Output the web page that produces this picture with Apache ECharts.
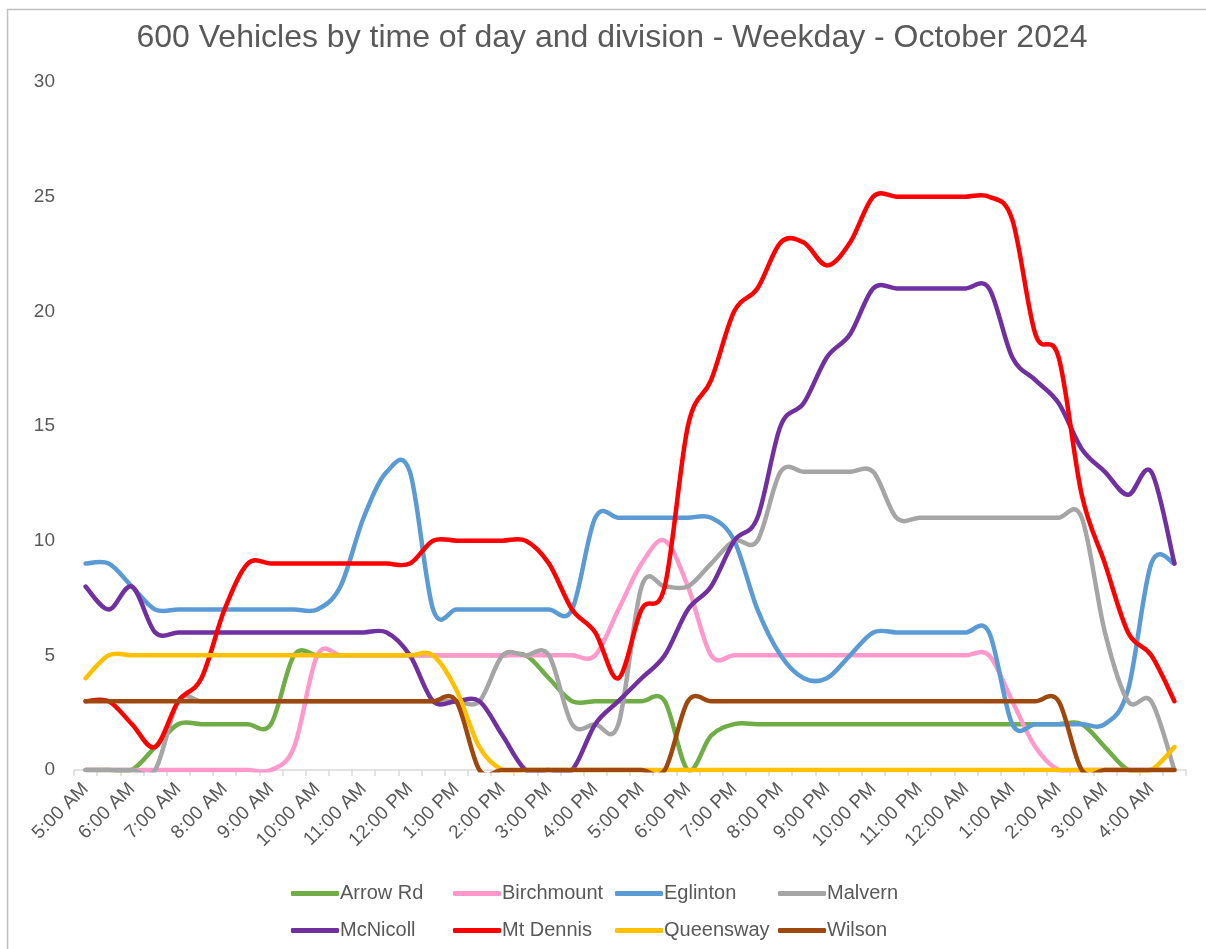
<!DOCTYPE html>
<html>
<head>
<meta charset="utf-8">
<script src="https://cdn.jsdelivr.net/npm/echarts@6/dist/echarts.min.js"></script>
<style>
html,body{margin:0;padding:0;background:#fff;}
#chart{width:1206px;height:949px;}
</style>
</head>
<body>
<div id="chart"></div>
<script>
const categories = ["5:00 AM","5:30 AM","6:00 AM","6:30 AM","7:00 AM","7:30 AM","8:00 AM","8:30 AM","9:00 AM","9:30 AM","10:00 AM","10:30 AM","11:00 AM","11:30 AM","12:00 PM","12:30 PM","1:00 PM","1:30 PM","2:00 PM","2:30 PM","3:00 PM","3:30 PM","4:00 PM","4:30 PM","5:00 PM","5:30 PM","6:00 PM","6:30 PM","7:00 PM","7:30 PM","8:00 PM","8:30 PM","9:00 PM","9:30 PM","10:00 PM","10:30 PM","11:00 PM","11:30 PM","12:00 AM","12:30 AM","1:00 AM","1:30 AM","2:00 AM","2:30 AM","3:00 AM","3:30 AM","4:00 AM","4:30 AM"];

const arrowRd    = [0,0,0,1,2,2,2,2,2,5, 5,5,5,5,5,5,5,5,5,5, 4,3,3,3,3,3,0,1.5,2,2, 2,2,2,2,2,2,2,2,2,2, 2,2,2,2,1,0,0,0];
const birchmount = [0,0,0,0,0,0,0,0,0,1, 5,5,5,5,5,5,5,5,5,5, 5,5,5,7,9,10,8,5,5,5, 5,5,5,5,5,5,5,5,5,5, 3,1,0,0,0,0,0,0];
const eglinton   = [9,9,8,7,7,7,7,7,7,7, 7,8,11,13,13,7,7,7,7,7, 7,7,11,11,11,11,11,11,10,7, 5,4,4,5,6,6,6,6,6,6, 2,2,2,2,2,3.5,9,9];
const malvern    = [0,0,0,0,3,3,3,3,3,3, 3,3,3,3,3,3,3,3,5,5, 5,2,2,2,8,8,8,9,10,10, 13,13,13,13,13,11,11,11,11,11, 11,11,11,11,6,3,3,0];
const mcNicoll   = [8,7,8,6,6,6,6,6,6,6, 6,6,6,6,5,3,3,3,1.5,0, 0,0,2,3,4,5,7,8,10,11, 15,16,18,19,21,21,21,21,21,21, 18,17,16,14,13,12,13,9];
const mtDennis   = [3,3,2,1,3,4,7,9,9,9, 9,9,9,9,9,10,10,10,10,10, 9,7,6,4,7,8,15,17,20,21, 23,23,22,23,25,25,25,25,25,25, 24,19,18,12,9,6,5,3];
const queensway  = [4,5,5,5,5,5,5,5,5,5, 5,5,5,5,5,5,3.5,1,0,0, 0,0,0,0,0,0,0,0,0,0, 0,0,0,0,0,0,0,0,0,0, 0,0,0,0,0,0,0,1];
const wilson     = [3,3,3,3,3,3,3,3,3,3, 3,3,3,3,3,3,3,0,0,0, 0,0,0,0,0,0,3,3,3,3, 3,3,3,3,3,3,3,3,3,3, 3,3,3,0,0,0,0,0];

const seriesNames  = ["Arrow Rd","Birchmount","Eglinton","Malvern","McNicoll","Mt Dennis","Queensway","Wilson"];
const seriesValues = [arrowRd, birchmount, eglinton, malvern, mcNicoll, mtDennis, queensway, wilson];
const seriesColors = ["#70AD47","#FF99CC","#5B9BD5","#A5A5A5","#7030A0","#FF0000","#FFC000","#9E480E"];
const yTicks = [0,5,10,15,20,25,30];
const titleText = "600 Vehicles by time of day and division - Weekday - October 2024";

const FONT = '"Liberation Sans", Arial, sans-serif';
const TXT = '#595959';

const chart = echarts.init(document.getElementById('chart'), null, {renderer:'canvas'});

const legendCols = [
  {left: 291, names: ["Arrow Rd","McNicoll"]},
  {left: 453, names: ["Birchmount","Mt Dennis"]},
  {left: 615, names: ["Eglinton","Queensway"]},
  {left: 778, names: ["Malvern","Wilson"]}
];

// Smoothed line (Excel-style Catmull-Rom) drawn through the axis scales via api.coord
function smoothSeries(name, values, color) {
  return {
    name: name,
    type: 'custom',
    coordinateSystem: 'cartesian2d',
    data: values.map((v, i) => [i, v]),
    encode: {x: 0, y: 1},
    itemStyle: {color: color},
    silent: true,
    clip: false,
    renderItem: function (params, api) {
      if (params.dataIndex !== 0) return null;
      const pts = values.map((v, i) => api.coord([i, v]));
      const n = pts.length;
      let d = 'M' + pts[0][0] + ' ' + pts[0][1];
      for (let i = 0; i < n - 1; i++) {
        const p0 = pts[Math.max(i - 1, 0)], p1 = pts[i], p2 = pts[i + 1], p3 = pts[Math.min(i + 2, n - 1)];
        const c1x = p1[0] + (p2[0] - p0[0]) / 6, c1y = p1[1] + (p2[1] - p0[1]) / 6;
        const c2x = p2[0] - (p3[0] - p1[0]) / 6, c2y = p2[1] - (p3[1] - p1[1]) / 6;
        d += ' C' + c1x + ' ' + c1y + ' ' + c2x + ' ' + c2y + ' ' + p2[0] + ' ' + p2[1];
      }
      const cs = params.coordSys;
      return {
        type: 'path',
        shape: {pathData: d},
        style: {fill: 'none', stroke: color, lineWidth: 4.5, lineCap: 'round', lineJoin: 'round'},
        clipPath: {type: 'rect', shape: {x: cs.x - 4, y: cs.y - 4, width: cs.width + 8, height: cs.height + 6.5}}
      };
    }
  };
}

const option = {
  animation: false,
  backgroundColor: '#fff',
  color: seriesColors,
  legend: legendCols.map(c => ({
    data: c.names,
    left: c.left,
    top: 883,
    orient: 'vertical',
    itemGap: 16,
    itemWidth: 48,
    itemHeight: 5,
    icon: 'roundRect',
    padding: 0,
    selectedMode: false,
    textStyle: {fontFamily: FONT, fontSize: 20, color: TXT, lineHeight: 21, padding: [0,0,0,-4]}
  })),
  grid: {left: 74, right: 20, top: 82, bottom: 179, containLabel: false},
  xAxis: {
    type: 'category',
    data: categories,
    boundaryGap: true,
    axisLine: {show: true, lineStyle: {color: '#d9d9d9', width: 1.5}},
    axisTick: {show: true, interval: 0, length: 6, lineStyle: {color: '#d9d9d9', width: 1.5}},
    axisLabel: {interval: 1, rotate: 45, margin: 16, fontFamily: FONT, fontSize: 19, color: TXT},
    splitLine: {show: false}
  },
  yAxis: {
    type: 'value',
    min: yTicks[0],
    max: yTicks[yTicks.length-1],
    interval: yTicks[1]-yTicks[0],
    axisLine: {show: false},
    axisTick: {show: false},
    splitLine: {show: false},
    axisLabel: {margin: 19, fontFamily: FONT, fontSize: 19, color: TXT}
  },
  graphic: [{
    type: 'rect',
    silent: true,
    shape: {x: 7.5, y: 9.5, width: 1400, height: 1100},
    style: {fill: 'none', stroke: '#bfbfbf', lineWidth: 1.5}
  }, {
    type: 'text',
    silent: true,
    x: 612,
    y: 38,
    style: {text: titleText, fontFamily: FONT, fontSize: 32, fill: TXT, align: 'center', verticalAlign: 'middle'}
  }],
  series: seriesNames.map((n, k) => smoothSeries(n, seriesValues[k], seriesColors[k]))
};
chart.setOption(option);
</script>
</body>
</html>
